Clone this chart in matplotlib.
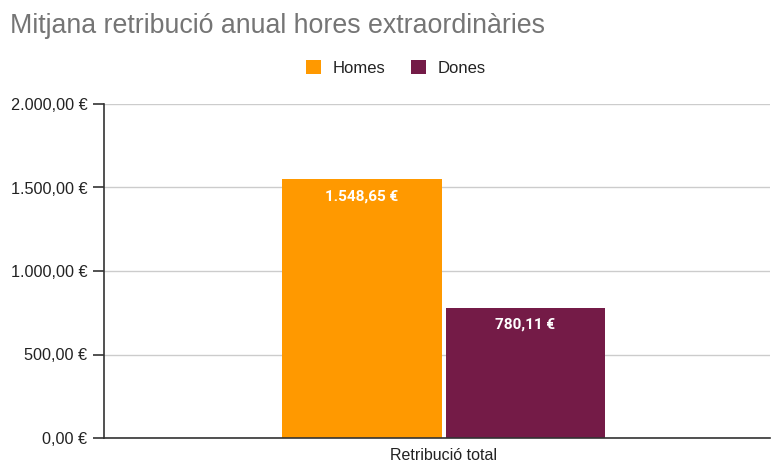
import matplotlib
matplotlib.use("Agg")
import matplotlib.pyplot as plt
from matplotlib.ticker import FuncFormatter

categories = ["Retribució total"]
series_names = ["Homes", "Dones"]
values = [1548.65, 780.11]
colors = ["#FF9900", "#741B47"]
yticks = [0, 500, 1000, 1500, 2000]

def eur(v, pos=None):
    s = f"{v:,.2f}".replace(",", "X").replace(".", ",").replace("X", ".")
    return s + " €"

W, H = 772, 463
fig = plt.figure(figsize=(W/100, H/100), dpi=100)
ax = fig.add_axes([104/W, 1-438/H, (770-104)/W, (438-104)/H])

bw = 0.239
offsets = [-0.1225, 0.1225]
for i, (name, v, c) in enumerate(zip(series_names, values, colors)):
    ax.bar(0 + offsets[i], v, width=bw, color=c, label=name, zorder=3)
    ax.annotate(eur(v), xy=(offsets[i], v), xytext=(0, -17), textcoords="offset pixels",
                ha="center", va="center", color="white",
                fontsize=11, fontweight="bold", family="Roboto", zorder=4)

ax.set_xlim(-0.51, 0.49)
ax.set_ylim(0, 2000)
ax.set_yticks(yticks)
ax.yaxis.set_major_formatter(FuncFormatter(eur))
ax.set_xticks([0])
ax.set_xticklabels(categories)
ax.tick_params(axis="x", length=0, labelsize=11.5, pad=7, labelcolor="#222222")
ax.tick_params(axis="y", length=8, width=1.2, color="#333333", labelsize=11.7, pad=4, labelcolor="#222222")
for lab in ax.get_xticklabels() + ax.get_yticklabels():
    lab.set_family("Liberation Sans")
ax.grid(axis="y", color="#cccccc", linewidth=1, zorder=0)
for s in ["top", "right"]:
    ax.spines[s].set_visible(False)
for s in ["left", "bottom"]:
    ax.spines[s].set_color("#333333")
    ax.spines[s].set_linewidth(1.2)
    ax.spines[s].set_zorder(5)

fig.text(10/W, 1-26/H, "Mitjana retribució anual hores extraordinàries", fontsize=19.3,
         color="#757575", family="Liberation Sans", va="center", ha="left")
leg = fig.legend(loc="center", bbox_to_anchor=(396/W, 1-68/H), ncol=2, frameon=False,
                 prop={"family": "Liberation Sans", "size": 12}, handlelength=0.9,
                 handleheight=0.9, columnspacing=1.5, handletextpad=0.7)
for t in leg.get_texts():
    t.set_color("#222222")

fig.savefig("out.png", dpi=100)
